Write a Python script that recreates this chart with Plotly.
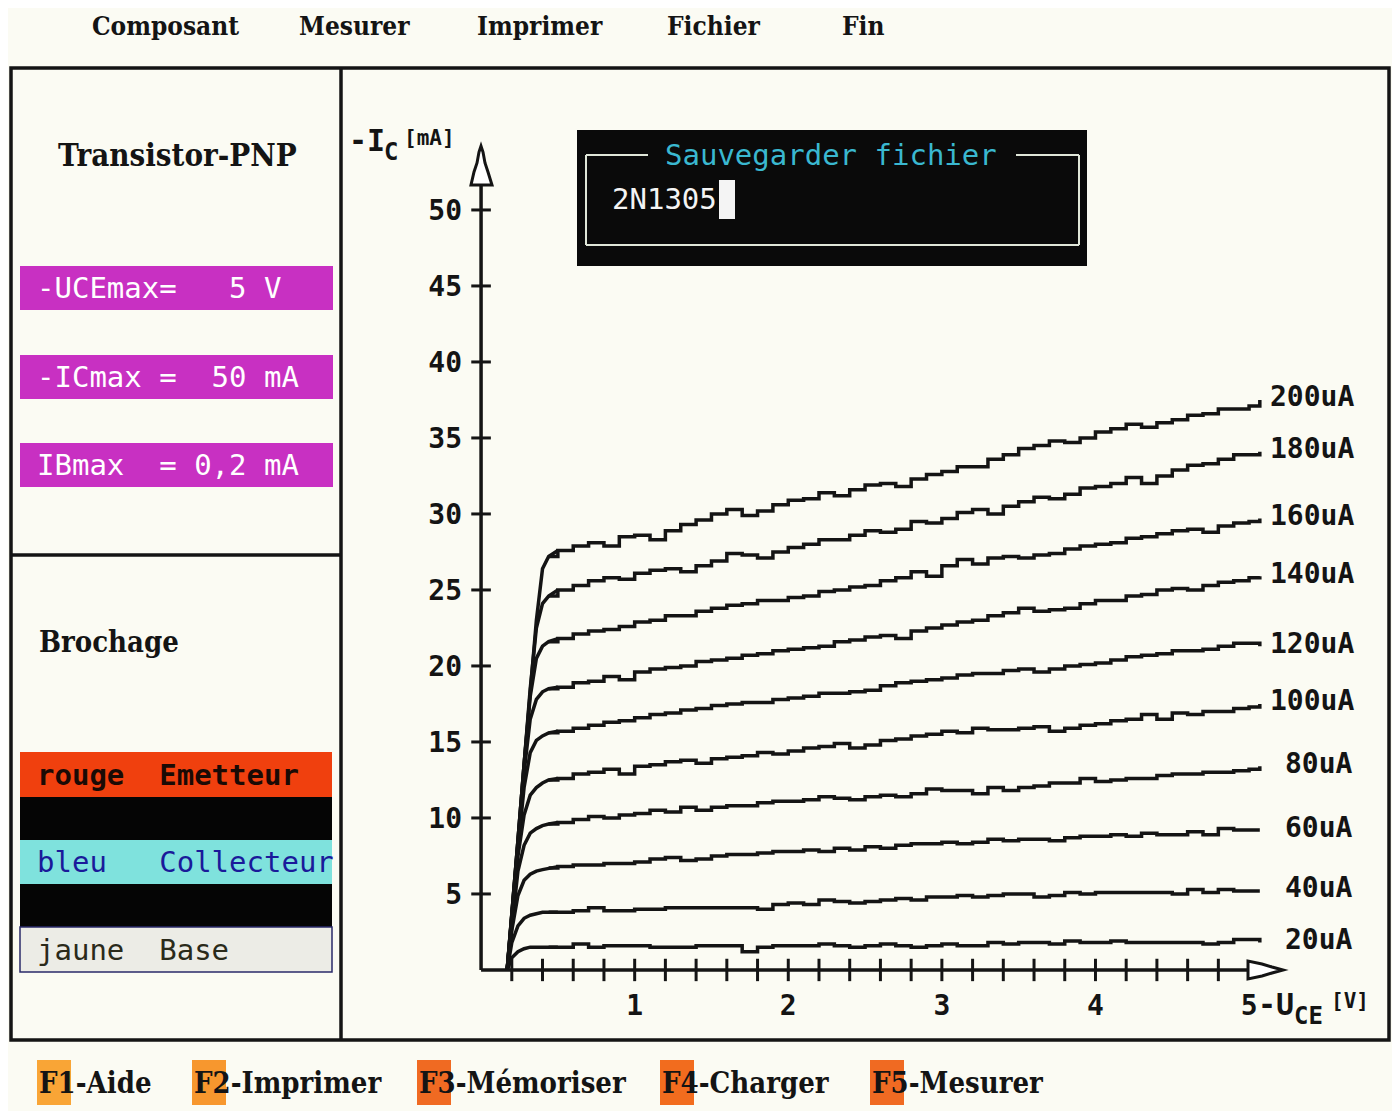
import plotly.graph_objects as go

# ---------------- data ----------------
V_RISE = [0.17, 0.20, 0.24, 0.28, 0.32, 0.36, 0.40, 0.44]
V_FLAT = [0.5, 0.6, 0.7, 0.8, 0.9, 1.0, 1.1, 1.2, 1.3, 1.4,
          1.5, 1.6, 1.7, 1.8, 1.9, 2.0, 2.1, 2.2, 2.3, 2.4,
          2.5, 2.6, 2.7, 2.8, 2.9, 3.0, 3.1, 3.2, 3.3, 3.4,
          3.5, 3.6, 3.7, 3.8, 3.9, 4.0, 4.1, 4.2, 4.3, 4.4,
          4.5, 4.6, 4.7, 4.8, 4.9, 5.0, 5.07]
UCE = V_RISE + V_FLAT

IC_200 = [0, 3.5, 8.5, 13.5, 18.5, 23.0, 26.4, 27.2,
          27.6, 27.9, 28.1, 27.9, 28.5, 28.6, 28.3, 28.9, 29.3, 29.6,
          30.0, 30.3, 29.9, 30.2, 30.6, 30.9, 31.0, 31.4, 31.2, 31.6,
          31.9, 32.0, 31.8, 32.3, 32.6, 32.8, 33.1, 33.1, 33.6, 33.9,
          34.3, 34.5, 34.8, 34.7, 35.0, 35.4, 35.6, 35.9, 35.7, 36.0,
          36.2, 36.5, 36.6, 36.9, 36.9, 37.1, 37.5]
IC_180 = [0, 3.5, 8.5, 13.5, 18.5, 22.5, 24.1, 24.6,
          25.0, 25.3, 25.6, 25.8, 25.7, 26.1, 26.3, 26.4, 26.2, 26.6,
          26.9, 27.4, 27.3, 27.1, 27.5, 27.8, 28.0, 28.3, 28.3, 28.6,
          28.9, 28.8, 29.0, 29.5, 29.4, 29.7, 30.1, 30.3, 30.0, 30.5,
          30.8, 31.1, 31.0, 31.3, 31.7, 31.8, 32.0, 32.4, 32.0, 32.5,
          32.9, 33.2, 33.3, 33.6, 33.9, 33.9, 34.1]
IC_160 = [0, 3.5, 8.5, 13.5, 18.0, 20.5, 21.3, 21.6,
          21.8, 22.1, 22.3, 22.4, 22.6, 22.9, 23.0, 23.3, 23.3, 23.6,
          23.8, 24.0, 24.1, 24.3, 24.3, 24.5, 24.6, 24.9, 25.0, 25.2,
          25.3, 25.6, 25.8, 26.2, 25.9, 26.6, 27.0, 26.7, 27.1, 27.2,
          27.1, 27.3, 27.4, 27.7, 27.9, 28.0, 28.1, 28.4, 28.5, 28.7,
          28.9, 29.0, 28.8, 29.2, 29.4, 29.5, 29.7]
IC_140 = [0, 3.5, 8.5, 13.0, 16.5, 17.8, 18.3, 18.5,
          18.6, 18.9, 19.0, 19.3, 19.1, 19.6, 19.8, 19.9, 20.0, 20.3,
          20.4, 20.5, 20.7, 20.8, 21.0, 21.1, 21.2, 21.3, 21.6, 21.7,
          21.9, 22.0, 21.8, 22.3, 22.5, 22.7, 22.9, 23.0, 23.3, 23.5,
          23.8, 23.6, 23.7, 23.8, 24.1, 24.3, 24.3, 24.6, 24.7, 25.0,
          25.1, 25.0, 25.3, 25.5, 25.6, 25.8, 25.9]
IC_120 = [0, 3.5, 8.0, 12.0, 14.3, 15.1, 15.4, 15.6,
          15.7, 15.9, 16.1, 16.3, 16.4, 16.6, 16.8, 16.9, 17.1, 17.2,
          17.4, 17.5, 17.6, 17.6, 17.8, 17.9, 18.0, 18.2, 18.2, 18.3,
          18.4, 18.7, 18.9, 19.0, 19.1, 19.2, 19.4, 19.5, 19.5, 19.7,
          19.8, 19.6, 19.8, 20.0, 20.1, 20.2, 20.4, 20.6, 20.7, 20.8,
          21.0, 21.0, 21.1, 21.3, 21.5, 21.5, 21.3]
IC_100 = [0, 3.3, 7.5, 10.2, 11.5, 12.0, 12.3, 12.5,
          12.6, 12.9, 13.0, 13.2, 12.9, 13.4, 13.5, 13.7, 13.8, 13.6,
          13.9, 14.0, 14.1, 14.3, 14.2, 14.4, 14.6, 14.7, 14.9, 14.6,
          14.8, 15.1, 15.2, 15.4, 15.5, 15.7, 15.6, 15.9, 15.8, 15.8,
          15.9, 16.0, 15.7, 15.9, 16.1, 16.2, 16.4, 16.5, 16.8, 16.5,
          16.9, 16.8, 17.0, 17.0, 17.2, 17.3, 17.5]
IC_080 = [0, 3.0, 6.5, 8.2, 9.0, 9.3, 9.5, 9.6,
          9.7, 9.9, 10.1, 10.0, 10.2, 10.3, 10.5, 10.4, 10.7, 10.5,
          10.7, 10.8, 10.8, 11.0, 11.1, 11.1, 11.2, 11.4, 11.3, 11.2,
          11.4, 11.5, 11.4, 11.6, 11.9, 11.8, 11.8, 11.6, 12.0, 11.8,
          12.0, 12.1, 12.3, 12.3, 12.6, 12.4, 12.5, 12.6, 12.6, 12.8,
          12.9, 12.9, 13.0, 13.0, 13.1, 13.2, 13.4]
IC_060 = [0, 2.6, 4.9, 5.9, 6.3, 6.5, 6.6, 6.7,
          6.8, 6.9, 6.9, 7.0, 7.0, 7.1, 7.3, 7.4, 7.2, 7.3,
          7.5, 7.6, 7.6, 7.7, 7.8, 7.8, 7.9, 7.8, 8.0, 7.9,
          8.1, 8.0, 8.2, 8.3, 8.3, 8.4, 8.3, 8.4, 8.6, 8.5,
          8.6, 8.6, 8.5, 8.7, 8.8, 8.8, 8.9, 8.8, 9.0, 8.9,
          8.9, 9.1, 8.9, 9.3, 9.2, 9.2, 9.2]
IC_040 = [0, 1.8, 2.9, 3.4, 3.6, 3.7, 3.8, 3.8,
          3.8, 3.9, 4.1, 3.9, 3.9, 4.0, 4.0, 4.1, 4.1, 4.1,
          4.1, 4.1, 4.1, 4.0, 4.3, 4.4, 4.3, 4.6, 4.5, 4.4,
          4.5, 4.6, 4.7, 4.6, 4.8, 4.8, 4.9, 4.8, 4.9, 5.0,
          5.0, 4.8, 4.9, 5.1, 5.0, 5.1, 5.1, 5.1, 5.1, 5.1,
          5.0, 5.3, 5.1, 5.3, 5.2, 5.2, 5.2]
IC_020 = [0, 0.8, 1.2, 1.4, 1.5, 1.5, 1.5, 1.5,
          1.5, 1.7, 1.5, 1.6, 1.6, 1.6, 1.5, 1.5, 1.5, 1.6,
          1.6, 1.6, 1.2, 1.5, 1.6, 1.6, 1.6, 1.7, 1.6, 1.5,
          1.6, 1.7, 1.6, 1.5, 1.6, 1.7, 1.6, 1.6, 1.8, 1.7,
          1.8, 1.8, 1.7, 1.9, 1.8, 1.8, 1.9, 1.8, 1.8, 1.8,
          1.8, 1.8, 1.7, 1.8, 2.0, 2.0, 1.8]

CURVES = [IC_020, IC_040, IC_060, IC_080, IC_100, IC_120, IC_140, IC_160, IC_180, IC_200]
CURVE_LABELS = ["20uA", "40uA", "60uA", "80uA", "100uA", "120uA", "140uA", "160uA", "180uA", "200uA"]

X_TICKS_MINOR = [0.2, 0.4, 0.6, 0.8, 1.0, 1.2, 1.4, 1.6, 1.8, 2.0, 2.2, 2.4,
                 2.6, 2.8, 3.0, 3.2, 3.4, 3.6, 3.8, 4.0, 4.2, 4.4, 4.6, 4.8]
X_TICK_LABELS = [1, 2, 3, 4, 5]
Y_TICKS = [5, 10, 15, 20, 25, 30, 35, 40, 45, 50]

MENU_TOP = ["Composant", "Mesurer", "Imprimer", "Fichier", "Fin"]
FKEYS = ["F1", "F2", "F3", "F4", "F5"]
FKEY_TEXT = ["-Aide", "-Imprimer", "-Mémoriser", "-Charger", "-Mesurer"]

# ---------------- geometry helpers (screen pixels -> paper) ----------------
OFF = 8                      # page body margin
W_FIG, H_FIG = 1384, 1103
ML, MR, MT, MB = 470, 23, 141, 138
PW = W_FIG - ML - MR
PH = H_FIG - MT - MB
N = len(V_RISE)


def px(xp):
    return (xp - OFF - ML) / PW


def py(yp):
    return (H_FIG - MB - (yp - OFF)) / PH


INK = "#141414"
BG = "#fbfbf3"
MONO = "DejaVu Sans Mono"
SERIF = "DejaVu Serif Condensed, DejaVu Serif, serif"

fig = go.Figure()

# curves: steep rise (straight) + measured plateau (pixel staircase)
for vals, lab in zip(CURVES, CURVE_LABELS):
    fig.add_trace(go.Scatter(x=UCE[:N + 1], y=vals[:N + 1], mode="lines", name=lab,
                             line=dict(color=INK, width=3.5),
                             hoverinfo="skip", showlegend=False))
    fig.add_trace(go.Scatter(x=UCE[N - 1:], y=vals[N - 1:], mode="lines", name=lab,
                             line=dict(color=INK, width=3.5, shape="hv"),
                             hoverinfo="skip", showlegend=False))

# tick marks
fig.add_trace(go.Scatter(x=X_TICKS_MINOR, y=[0] * len(X_TICKS_MINOR), mode="markers",
                         marker=dict(symbol="line-ns-open", size=16, color=INK,
                                     line=dict(width=3, color=INK)),
                         cliponaxis=False, hoverinfo="skip", showlegend=False))
fig.add_trace(go.Scatter(x=[0] * len(Y_TICKS), y=Y_TICKS, mode="markers",
                         marker=dict(symbol="line-ew-open", size=14, color=INK,
                                     line=dict(width=3, color=INK)),
                         cliponaxis=False, hoverinfo="skip", showlegend=False))

shapes = []
shapes.append(dict(type="line", xref="x", yref="y", x0=0, y0=0, x1=0, y1=51.6,
                   line=dict(color=INK, width=3.5)))
shapes.append(dict(type="line", xref="x", yref="y", x0=0, y0=0, x1=5.0, y1=0,
                   line=dict(color=INK, width=3.5)))


def path(points):
    return "M " + " L ".join(f"{px(a):.5f},{py(b):.5f}" for a, b in points) + " Z"


# arrow heads
shapes.append(dict(type="path", xref="paper", yref="paper",
                   path=path([(471, 185), (492, 185), (488, 172), (485, 163), (483, 152),
                              (481, 146), (479, 152), (477, 163), (474, 172)]),
                   fillcolor="white", line=dict(color=INK, width=3)))
shapes.append(dict(type="path", xref="paper", yref="paper",
                   path=path([(1248, 961), (1248, 979), (1262, 976), (1272, 973), (1283, 970),
                              (1272, 967), (1262, 964)]),
                   fillcolor="white", line=dict(color=INK, width=3)))

# frames
shapes.append(dict(type="rect", xref="paper", yref="paper", x0=px(11), x1=px(1389),
                   y0=py(1040), y1=py(68), line=dict(color=INK, width=3.5)))
shapes.append(dict(type="line", xref="paper", yref="paper", x0=px(341), x1=px(341),
                   y0=py(1040), y1=py(68), line=dict(color=INK, width=3.5)))
shapes.append(dict(type="line", xref="paper", yref="paper", x0=px(11), x1=px(341),
                   y0=py(555), y1=py(555), line=dict(color=INK, width=3.5)))

# magenta parameter boxes
for y0, y1 in [(266, 310), (355, 399), (443, 487)]:
    shapes.append(dict(type="rect", xref="paper", yref="paper", x0=px(20), x1=px(333),
                       y0=py(y1), y1=py(y0), fillcolor="#c830c2", line=dict(width=0)))

# pinout colour bars
for (y0, y1, col) in [(752, 797, "#f0400e"), (797, 840, "#050505"), (840, 884, "#7fe2dd"),
                      (884, 927, "#050505"), (927, 972, "#ececE6")]:
    shapes.append(dict(type="rect", xref="paper", yref="paper", x0=px(20), x1=px(332),
                       y0=py(y1), y1=py(y0), fillcolor=col, line=dict(width=0)))
shapes.append(dict(type="rect", xref="paper", yref="paper", x0=px(20), x1=px(332),
                   y0=py(972), y1=py(927), line=dict(color="#2a2a6a", width=1.5)))

# save dialog
shapes.append(dict(type="rect", xref="paper", yref="paper", x0=px(577), x1=px(1087),
                   y0=py(266), y1=py(130), fillcolor="#0a0a0a", line=dict(width=0)))
BOX_LINE = dict(color="#dfe6d8", width=2)
for seg in [((586, 155), (648, 155)), ((1016, 155), (1079, 155)), ((586, 155), (586, 245)),
            ((1079, 155), (1079, 245)), ((586, 245), (1079, 245))]:
    (a, b), (c, d) = seg
    shapes.append(dict(type="line", xref="paper", yref="paper", x0=px(a), y0=py(b),
                       x1=px(c), y1=py(d), line=BOX_LINE))
shapes.append(dict(type="rect", xref="paper", yref="paper", x0=px(719), x1=px(735),
                   y0=py(219), y1=py(180), fillcolor="#f4f4f4", line=dict(width=0)))

# function-key boxes
FKEY_X = [37, 192, 417, 660, 870]
FKEY_COL = ["#f9a536", "#f7972e", "#f06a22", "#f26c1e", "#f06a22"]
for xk, col in zip(FKEY_X, FKEY_COL):
    shapes.append(dict(type="rect", xref="paper", yref="paper", x0=px(xk), x1=px(xk + 34),
                       y0=py(1105), y1=py(1060), fillcolor=col, line=dict(width=0)))

ann = []


def text(xp, yp, s, size, color=INK, family=MONO, anchor="left", bold=False):
    ann.append(dict(x=px(xp), y=py(yp), xref="paper", yref="paper",
                    text=(f"<b>{s}</b>" if bold else s),
                    showarrow=False, xanchor=anchor, yanchor="middle",
                    font=dict(size=size, color=color, family=family)))


# top menu
for xm, s in zip([90, 297, 475, 665, 840], MENU_TOP):
    text(xm, 26, s, 26, family=SERIF, bold=True)

# bottom function keys
for xk, k, s in zip(FKEY_X, FKEYS, FKEY_TEXT):
    text(xk, 1083, k + s, 29, family=SERIF, bold=True)

# left panel
text(177, 155, "Transistor-PNP", 31, family=SERIF, bold=True, anchor="center")
text(35, 288, "-UCEmax=   5 V", 29, color="white")
text(35, 377, "-ICmax =  50 mA", 29, color="white")
text(35, 465, "IBmax  = 0,2 mA", 29, color="white")
text(37, 642, "Brochage", 29, family=SERIF, bold=True)
text(35, 775, "rouge  Emetteur", 29, color="#1a0a05", bold=True)
text(35, 862, "bleu   Collecteur", 29, color="#1a1a9a")
text(35, 950, "jaune  Base", 29, color="#2a2a1a")

# dialog text
text(831, 155, "Sauvegarder fichier", 29, color="#3ab8d0", anchor="center")
text(610, 199, "2N1305", 29, color="#f4f4f4")

# axis titles
text(347, 140, "-I", 30, bold=True)
text(382, 152, "C", 24, bold=True)
text(402, 138, "[mA]", 21, bold=True)
text(1256, 1004, "-U", 30, bold=True)
text(1292, 1016, "CE", 24, bold=True)
text(1329, 1001, "[V]", 21, bold=True)

# curve labels
for vals, lab in zip(CURVES, CURVE_LABELS):
    xl = 5.22 if len(lab) == 4 else 5.12
    ann.append(dict(x=xl, y=vals[-1], xref="x", yref="y", text=f"<b>{lab}</b>",
                    showarrow=False, xanchor="left", yanchor="middle", yshift=3,
                    font=dict(size=28, color=INK, family=MONO)))

fig.update_layout(
    width=W_FIG, height=H_FIG,
    margin=dict(l=ML, r=MR, t=MT, b=MB),
    paper_bgcolor=BG, plot_bgcolor=BG,
    shapes=shapes, annotations=ann,
    xaxis=dict(range=[-0.02, -0.02 + PW / 153.6], showgrid=False, zeroline=False,
               showline=False, ticks="", tickvals=X_TICK_LABELS,
               ticktext=[f"<b>{v}</b>" for v in X_TICK_LABELS],
               tickfont=dict(size=28, family=MONO, color=INK), ticklabelstandoff=13),
    yaxis=dict(range=[-0.2, -0.2 + PH / 15.2], showgrid=False, zeroline=False,
               showline=False, ticks="", tickvals=Y_TICKS,
               ticktext=[f"<b>{v}</b>" for v in Y_TICKS],
               tickfont=dict(size=28, family=MONO, color=INK), ticklabelstandoff=15),
)

fig.write_html("out.html", config={"displayModeBar": False})
